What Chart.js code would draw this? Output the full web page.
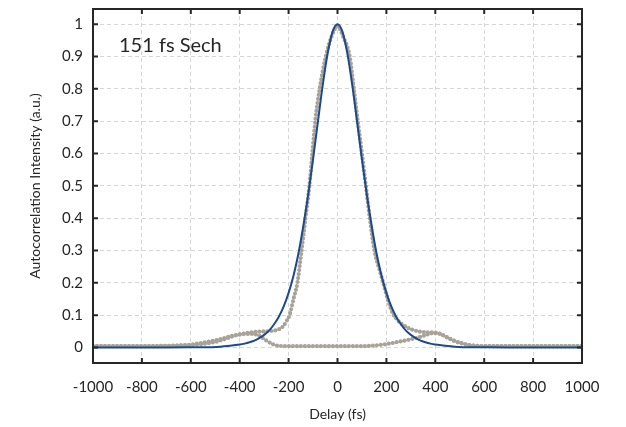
<!DOCTYPE html>
<html>
<head>
<meta charset="utf-8">
<script src="https://cdn.jsdelivr.net/npm/chart.js@4.4.1/dist/chart.umd.min.js"></script>
<style>
  html, body { margin: 0; padding: 0; background: #fff; }
  #wrap { width: 626px; height: 427px; }
</style>
</head>
<body>
<div id="wrap"><canvas id="acChart" width="626" height="427"></canvas></div>
<script>
// axis ticks
const delayTicks = [-1000, -800, -600, -400, -200, 0, 200, 400, 600, 800, 1000];
const intensityTicks = [0, 0.1, 0.2, 0.3, 0.4, 0.5, 0.6, 0.7, 0.8, 0.9, 1];

// sech fit (blue line)
const fitDelay = [-1000, -800, -700, -600, -520, -480, -440,
  -400, -380, -360, -340, -320, -300, -280, -260, -240, -220, -200, -180, -160, -140, -120, -100, -80, -60, -40, -20,
  0,
  20, 40, 60, 80, 100, 120, 140, 160, 180, 200, 220, 240, 260, 280, 300, 320, 340, 360, 380, 400,
  440, 480, 520, 600, 700, 800, 1000];
const fitIntensity = [0, 0, 0, 0.0004, 0.001, 0.002, 0.005,
  0.009, 0.012, 0.016, 0.021, 0.029, 0.039, 0.052, 0.071, 0.095, 0.127, 0.169, 0.222, 0.290, 0.375, 0.472, 0.582, 0.699, 0.814, 0.911, 0.977,
  1,
  0.977, 0.911, 0.814, 0.699, 0.582, 0.472, 0.375, 0.290, 0.222, 0.169, 0.127, 0.095, 0.071, 0.052, 0.039, 0.029, 0.021, 0.016, 0.012, 0.009,
  0.005, 0.002, 0.001, 0.0004, 0, 0, 0];

// measured trace, main pass (grey dots)
const scanDelay = [-1000, -900, -800, -700, -650, -600, -550, -500, -460, -430, -400, -360, -320, -290, -260, -240, -222, -208, -196,
  -180, -164, -147, -131, -115, -103, -91, -73, -48, -25, 0, 25, 50, 67, 83, 100, 116, 132, 151, 170, 187, 205, 226, 245, 264, 285,
  305, 330, 360, 400, 420, 441, 460, 481, 510, 536, 570, 604, 700, 800, 900, 1000];
const scanIntensity = [0.004, 0.004, 0.004, 0.005, 0.006, 0.008, 0.011, 0.017, 0.026, 0.034, 0.040, 0.046, 0.049, 0.050, 0.052, 0.056, 0.066, 0.082, 0.100,
  0.150, 0.200, 0.300, 0.400, 0.500, 0.600, 0.700, 0.800, 0.900, 0.960, 0.993, 0.958, 0.900, 0.800, 0.700, 0.600, 0.500, 0.400, 0.300, 0.245, 0.200, 0.150, 0.105, 0.085, 0.072, 0.062,
  0.055, 0.050, 0.047, 0.046, 0.042, 0.034, 0.026, 0.019, 0.012, 0.008, 0.005, 0.004, 0.004, 0.004, 0.004, 0.004];

// measured trace, satellite pass (grey dots)
const satDelay = [-1000, -800, -700, -650, -600, -550, -500, -460, -420, -380, -350, -320, -292, -265, -238, -200, -100, 0, 100, 150,
  196, 240, 291, 330, 359, 390, 420, 441, 481, 536, 604, 700, 1000];
const satIntensity = [0.004, 0.004, 0.005, 0.006, 0.009, 0.015, 0.022, 0.030, 0.038, 0.042, 0.042, 0.036, 0.022, 0.010, 0.005, 0.004, 0.004, 0.004, 0.004, 0.006,
  0.010, 0.016, 0.024, 0.031, 0.038, 0.044, 0.042, 0.034, 0.020, 0.008, 0.004, 0.004, 0.004];

const toPoints = (xs, ys) => xs.map((x, i) => ({ x, y: ys[i] }));

const frameColor = '#262626';
const textColor = '#262626';
const dotGrey = '#a8a396';

// black box with inward ticks on all four sides, plus the label
const framePlugin = {
  id: 'frame',
  afterDraw(chart) {
    const { ctx, chartArea: a, scales } = chart;
    const len = 5;
    ctx.save();
    ctx.strokeStyle = frameColor;
    ctx.lineWidth = 2;
    ctx.beginPath();
    delayTicks.forEach(v => {
      const px = scales.x.getPixelForValue(v);
      ctx.moveTo(px, a.bottom); ctx.lineTo(px, a.bottom - len);
      ctx.moveTo(px, a.top); ctx.lineTo(px, a.top + len);
    });
    intensityTicks.forEach(v => {
      const py = scales.y.getPixelForValue(v);
      ctx.moveTo(a.left, py); ctx.lineTo(a.left + len, py);
      ctx.moveTo(a.right, py); ctx.lineTo(a.right - len, py);
    });
    ctx.stroke();
    ctx.strokeRect(a.left, a.top, a.right - a.left, a.bottom - a.top);

    ctx.fillStyle = textColor;
    ctx.font = '20px Lato';
    ctx.textBaseline = 'alphabetic';
    ctx.fillText('151 fs Sech', 119, 52);
    ctx.restore();
  }
};

function dotSeries(label, xs, ys, order) {
  return {
    label,
    data: toPoints(xs, ys),
    showLine: true,
    borderColor: dotGrey,
    borderWidth: 4.2,
    borderDash: [0, 4],
    borderCapStyle: 'round',
    pointRadius: 0,
    cubicInterpolationMode: 'monotone',
    order
  };
}

new Chart(document.getElementById('acChart'), {
  type: 'scatter',
  data: {
    datasets: [
      {
        label: 'Sech fit',
        data: toPoints(fitDelay, fitIntensity),
        showLine: true,
        borderColor: '#1c4a8a',
        borderWidth: 2,
        pointRadius: 0,
        cubicInterpolationMode: 'monotone',
        order: 0
      },
      dotSeries('Measured', scanDelay, scanIntensity, 1),
      dotSeries('Measured (satellite)', satDelay, satIntensity, 2)
    ]
  },
  options: {
    responsive: false,
    animation: false,
    layout: { padding: { left: 0, right: 44, top: 9, bottom: 0 } },
    plugins: {
      legend: { display: false },
      tooltip: { enabled: false }
    },
    scales: {
      x: {
        type: 'linear',
        min: -1000,
        max: 1000,
        afterBuildTicks: (scale) => { scale.ticks = delayTicks.map(v => ({ value: v })); },
        afterFit: (scale) => { scale.height = 64; scale.paddingLeft = 0; scale.paddingRight = 0; },
        grid: { color: '#d6d6d6', lineWidth: 1, drawTicks: false },
        border: { display: false, dash: [4, 3] },
        ticks: {
          padding: 15,
          color: textColor,
          font: { family: 'Lato', size: 15 },
          maxRotation: 0,
          callback: (val) => String(val)
        },
        title: {
          display: true,
          text: 'Delay (fs)',
          color: textColor,
          font: { family: 'Lato', size: 14 },
          padding: { top: 0, bottom: 4 }
        }
      },
      y: {
        type: 'linear',
        min: -0.048,
        max: 1.047,
        afterBuildTicks: (scale) => { scale.ticks = intensityTicks.map(v => ({ value: v })); },
        afterFit: (scale) => { scale.width = 93; scale.paddingTop = 0; scale.paddingBottom = 0; },
        grid: { color: '#d6d6d6', lineWidth: 1, drawTicks: false },
        border: { display: false, dash: [4, 3] },
        ticks: {
          padding: 10,
          color: textColor,
          font: { family: 'Lato', size: 15 },
          callback: (val) => String(Number(val.toFixed(1)))
        },
        title: {
          display: true,
          text: 'Autocorrelation Intensity (a.u.)',
          color: textColor,
          font: { family: 'Lato', size: 14 },
          padding: { top: 27, bottom: 0 }
        }
      }
    }
  },
  plugins: [framePlugin]
});
</script>
</body>
</html>
